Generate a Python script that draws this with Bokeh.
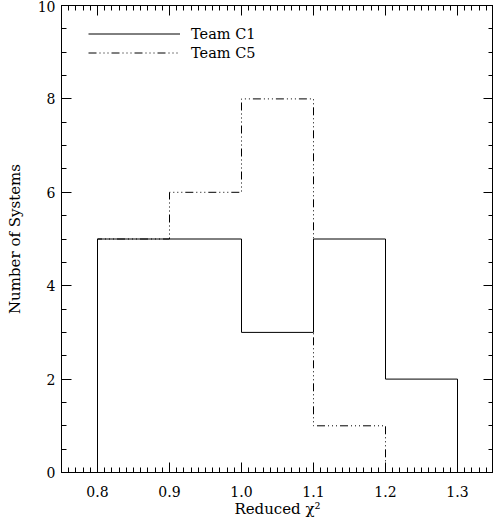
import numpy as np
from bokeh.plotting import figure
from bokeh.models import (LinearAxis, SingleIntervalTicker, PrintfTickFormatter,
                          Legend, LegendItem, Range1d)
from bokeh.embed import file_html
from bokeh.resources import INLINE

# ---- data ----
bin_edges = [0.8, 0.9, 1.0, 1.1, 1.2, 1.3]
team_c1 = [5, 5, 3, 5, 2]
team_c5 = [5, 6, 8, 1, 0]
series_labels = ["Team C1", "Team C5"]
x_label = "Reduced χ²"
y_label = "Number of Systems"

FONT = "DejaVu Serif"


def step_path(edges, counts):
    xs = np.repeat(np.asarray(edges, dtype=float), 2)
    ys = np.concatenate([[0.0], np.repeat(np.asarray(counts, dtype=float), 2), [0.0]])
    return xs, ys


p = figure(width=493, height=522, output_backend="svg", toolbar_location=None, title=None,
           x_range=Range1d(0.75, 1.35), y_range=Range1d(0, 10),
           min_border_left=61, min_border_right=0, min_border_top=5, min_border_bottom=50,
           x_axis_type=None, y_axis_type=None)
p.grid.visible = False
p.outline_line_color = "black"
p.outline_line_width = 1
p.background_fill_color = "white"
p.border_fill_color = "white"

xt = SingleIntervalTicker(interval=0.1, num_minor_ticks=10)
yt = SingleIntervalTicker(interval=2, num_minor_ticks=4)


def style(ax, labels=True):
    ax.major_tick_in = 10
    ax.major_tick_out = 0
    ax.minor_tick_in = 5
    ax.minor_tick_out = 0
    ax.axis_line_color = "black"
    ax.major_tick_line_color = "black"
    ax.minor_tick_line_color = "black"
    ax.major_label_text_font = FONT
    ax.axis_label_text_font = FONT
    ax.axis_label_text_font_size = "15px"
    ax.axis_label_text_font_style = "normal"
    ax.axis_label_text_color = "black"
    if labels:
        ax.major_label_text_font_size = "14px"
        ax.major_label_text_color = "black"
    else:
        ax.major_label_text_font_size = "0px"
        ax.major_label_text_color = None
        ax.major_label_standoff = 0


xb = LinearAxis(ticker=xt, formatter=PrintfTickFormatter(format="%.1f"), axis_label=x_label)
style(xb)
xb.major_label_standoff = 13
xb.axis_label_standoff = 0
p.add_layout(xb, "below")

yl = LinearAxis(ticker=yt, axis_label=y_label)
style(yl)
yl.major_label_standoff = 6
yl.axis_label_standoff = 11
p.add_layout(yl, "left")

xtop = LinearAxis(ticker=xt)
style(xtop, labels=False)
p.add_layout(xtop, "above")

yr = LinearAxis(ticker=yt)
style(yr, labels=False)
p.add_layout(yr, "right")

x1, y1 = step_path(bin_edges, team_c1)
x5, y5 = step_path(bin_edges, team_c5)
r1 = p.line(x1, y1, line_color="black", line_width=1)
r5 = p.line(x5, y5, line_color="black", line_width=1, line_dash="8 3 1 3 1 3 1 3")

legend = Legend(items=[LegendItem(label=series_labels[0], renderers=[r1]),
                       LegendItem(label=series_labels[1], renderers=[r5])],
                location=(27, 410), glyph_width=92, glyph_height=19, label_height=19,
                label_standoff=11, spacing=0, padding=0, margin=0,
                border_line_alpha=0, background_fill_alpha=0,
                label_text_font=FONT, label_text_font_size="14.5px", label_text_color="black")
p.add_layout(legend, "center")

open("out.html", "w").write(file_html(p, INLINE))
